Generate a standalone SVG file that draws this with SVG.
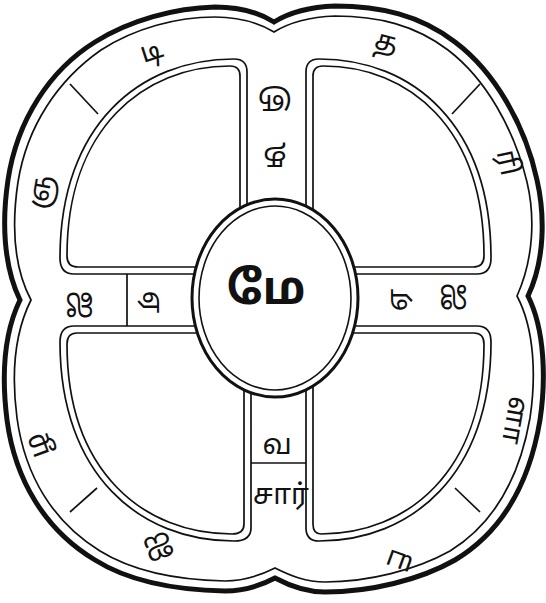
<svg xmlns="http://www.w3.org/2000/svg" width="546" height="603" viewBox="0 0 546 603">
<style>
.thick{fill:none;stroke:#111;stroke-width:5}
.ln{fill:none;stroke:#111;stroke-width:1.7}
.q{fill:#fff;stroke:#111;stroke-width:1.7}
.t{font-family:"Noto Sans Tamil","Noto Sans","Lohit Tamil",sans-serif;font-size:28px;fill:#111;text-anchor:middle;dominant-baseline:central}
</style>
<rect width="546" height="603" fill="#fff"/>
<g id="outer">
<path class="thick" d="M274,22 C290,12 310,7 335,6 C380,6 420,15 455,42 C495,72 525,125 537,180 C545,215 545,260 528,296 C545,330 546,380 540,420 C530,480 505,530 455,560 C420,580 370,592 325,592 C305,592 290,586 275,578 C260,586 245,591 225,591 C175,590 130,582 95,560 C45,530 15,480 7,420 C2,380 3,335 20,300 C3,265 2,220 8,180 C17,120 50,70 95,42 C130,20 175,8 215,7 C240,7 258,12 274,22 Z"/>
<path class="ln" d="M274,32 C290,22 310,17 335,16 C378,16 415,25 448,50 C486,79 514,129 527,182 C535,216 534,258 517,296 C535,330 536,378 530,418 C520,475 497,522 450,551 C416,570 368,582 325,582 C306,582 291,576 275,568 C259,576 244,581 225,581 C177,580 134,572 100,551 C53,522 25,476 17,418 C12,380 13,336 31,300 C13,266 12,222 18,182 C27,126 58,80 101,50 C135,28 177,17 215,17 C238,17 257,22 274,32 Z"/>
</g>
<g id="quadrant-tl">
<path class="q" d="M247,72 Q247,59 234,59 C140,59 60,125 60,258 Q60,274 74,274 L233,274 Q247,274 247,260 Z"/>
<path class="ln" d="M240,76 Q240,66 230,66 C144,66 67,128 67,256 Q67,267 78,267 L230,267 Q240,267 240,257 Z"/>
</g>
<g id="quadrant-tr">
<path class="q" d="M306,72 Q306,59 319,59 C413,59 491,125 491,258 Q491,274 477,274 L320,274 Q306,274 306,260 Z"/>
<path class="ln" d="M313,76 Q313,66 323,66 C409,66 484,128 484,256 Q484,267 473,267 L323,267 Q313,267 313,257 Z"/>
</g>
<g id="quadrant-bl">
<path class="q" d="M251,339 Q251,326 238,326 L74,326 Q60,326 60,342 C60,475 140,541 234,541 Q251,541 251,528 Z"/>
<path class="ln" d="M244,340 Q244,333 236,333 L77,333 Q67,333 67,344 C67,472 144,534 232,534 Q244,534 244,524 Z"/>
</g>
<g id="quadrant-br">
<path class="q" d="M306,339 Q306,326 319,326 L477,326 Q491,326 491,342 C491,475 411,541 319,541 Q306,541 306,528 Z"/>
<path class="ln" d="M313,340 Q313,333 321,333 L474,333 Q484,333 484,344 C484,472 407,534 321,534 Q313,534 313,524 Z"/>
</g>
<g id="connectors">
<line class="ln" x1="70" y1="84" x2="98" y2="114"/>
<line class="ln" x1="480" y1="84" x2="452" y2="114"/>
<line class="ln" x1="70" y1="512" x2="97" y2="488"/>
<line class="ln" x1="480" y1="512" x2="455" y2="488"/>
<line class="ln" x1="127" y1="274" x2="127" y2="326"/>
<line class="ln" x1="251" y1="463" x2="306" y2="463"/>
</g>
<g id="hub">
<ellipse cx="275" cy="298" rx="83" ry="99" fill="#fff" stroke="#111" stroke-width="3"/>
<ellipse cx="275" cy="298" rx="76" ry="92" fill="none" stroke="#111" stroke-width="1.6"/>
<text class="t" x="266" y="292" style="font-size:46px;font-weight:bold">மே</text>
</g>
<g id="rim-letters">
<text class="t" transform="translate(152,53) rotate(-18)">டி</text>
<text class="t" transform="translate(386,44) rotate(15)">த</text>
<text class="t" transform="translate(42,192) rotate(-80)">ஞ</text>
<text class="t" transform="translate(506,163) rotate(78)">ரி</text>
<text class="t" transform="translate(39,445) rotate(-110)">ழ</text>
<text class="t" transform="translate(513,420) rotate(100)">ளா</text>
<text class="t" transform="translate(160,550) rotate(160)">ஐ</text>
<text class="t" transform="translate(400,560) rotate(-160)">ய</text>
</g>
<g id="spoke-letters">
<text class="t" transform="translate(275,102) rotate(180)">ஞ</text>
<text class="t" transform="translate(275,158) rotate(180)">த</text>
<text class="t" transform="translate(83,305) rotate(90)">ஜ</text>
<text class="t" transform="translate(150,302) rotate(90)">ஏ</text>
<text class="t" transform="translate(400,300) rotate(-90)">ஏ</text>
<text class="t" transform="translate(450,297) rotate(-90)">ஜ</text>
<text class="t" x="277" y="447">வ</text>
<text class="t" x="281" y="497">சார்</text>
</g>
</svg>
